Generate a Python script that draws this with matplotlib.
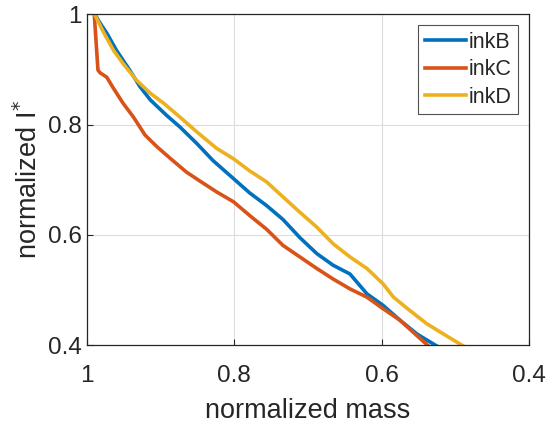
import numpy as np
import matplotlib
matplotlib.use("Agg")
import matplotlib.pyplot as plt

plt.rcParams['font.family'] = ['Liberation Sans', 'DejaVu Sans']

# values (normalized mass, normalized I*)
mass_B = [0.989, 0.982, 0.973, 0.960, 0.942, 0.928, 0.914, 0.892, 0.874, 0.851,
          0.829, 0.801, 0.779, 0.756, 0.734, 0.711, 0.688, 0.666, 0.643, 0.620,
          0.598, 0.575, 0.552, 0.526]
I_B = [1.000, 0.984, 0.966, 0.935, 0.899, 0.869, 0.845, 0.817, 0.796, 0.766,
       0.735, 0.702, 0.676, 0.653, 0.628, 0.595, 0.566, 0.545, 0.529, 0.493,
       0.472, 0.445, 0.420, 0.399]

mass_C = [0.990, 0.985, 0.982, 0.973, 0.964, 0.951, 0.937, 0.921, 0.905, 0.887,
          0.865, 0.847, 0.824, 0.801, 0.779, 0.756, 0.734, 0.711, 0.688, 0.666,
          0.643, 0.620, 0.598, 0.575, 0.557, 0.537]
I_C = [1.000, 0.899, 0.894, 0.886, 0.866, 0.839, 0.814, 0.781, 0.760, 0.739,
       0.714, 0.698, 0.678, 0.660, 0.635, 0.610, 0.581, 0.560, 0.539, 0.520,
       0.502, 0.487, 0.466, 0.445, 0.423, 0.399]

mass_D = [0.989, 0.978, 0.964, 0.951, 0.933, 0.914, 0.896, 0.874, 0.851, 0.824,
          0.801, 0.779, 0.756, 0.734, 0.711, 0.688, 0.666, 0.643, 0.620, 0.598,
          0.584, 0.562, 0.539, 0.516, 0.490]
I_D = [0.999, 0.969, 0.935, 0.911, 0.881, 0.857, 0.839, 0.814, 0.787, 0.757,
       0.738, 0.716, 0.696, 0.669, 0.641, 0.614, 0.584, 0.560, 0.539, 0.511,
       0.487, 0.463, 0.439, 0.420, 0.399]

labels = ['inkB', 'inkC', 'inkD']
colors = ['#0072BD', '#D95319', '#EDB120']

fig = plt.figure(figsize=(5.5, 4.24), dpi=100)
ax = fig.add_axes([0.158, 0.186, 0.804, 0.780])

ax.plot(mass_B, I_B, color=colors[0], lw=2.6, label=labels[0])
ax.plot(mass_C, I_C, color=colors[1], lw=2.6, label=labels[1])
ax.plot(mass_D, I_D, color=colors[2], lw=2.6, label=labels[2])

ax.set_xlim(1, 0.4)
ax.set_ylim(0.4, 1)
ax.set_xticks([1, 0.8, 0.6, 0.4])
ax.set_xticklabels(['1', '0.8', '0.6', '0.4'])
ax.set_yticks([0.4, 0.6, 0.8, 1])
ax.set_yticklabels(['0.4', '0.6', '0.8', '1'])
ax.grid(True, color='#dcdcdc', lw=0.8)
ax.set_axisbelow(True)
ax.tick_params(direction='in', length=4, width=0.8, colors='#262626',
               labelsize=17.5, labelcolor='#262626')
ax.tick_params(axis='x', pad=14)
ax.tick_params(axis='y', pad=3.5)
for s in ax.spines.values():
    s.set_color('#262626')
    s.set_linewidth(0.9)

ax.set_xlabel('normalized mass', fontsize=19.5, color='#262626', labelpad=8)
ax.set_ylabel(r'normalized I$^{*}$', fontsize=19.5, color='#262626', labelpad=4)

leg = ax.legend(loc='upper right', fontsize=15.5, frameon=True, fancybox=False,
                edgecolor='#262626', handlelength=1.9, handletextpad=0.15,
                borderpad=0.3, labelspacing=0.3, borderaxespad=0.5)
leg.get_frame().set_linewidth(0.8)
for t in leg.get_texts():
    t.set_color('#262626')

fig.savefig('out.png', dpi=100)
